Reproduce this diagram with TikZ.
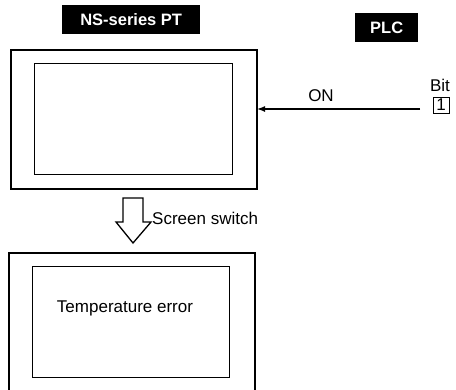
\documentclass[tikz,border=0pt]{standalone}
\usepackage{fontspec}
\setmainfont{Liberation Sans}
\usetikzlibrary{arrows.meta}
\begin{document}
\begin{tikzpicture}[x=1pt,y=-1pt,
  title/.style={fill=black,text=white,font=\fontsize{16.5}{18}\selectfont\bfseries,inner sep=0pt,anchor=north west},
  outerbox/.style={draw,line width=1.8pt,inner sep=0pt,anchor=north west},
  innerbox/.style={draw,line width=1.4pt,inner sep=0pt,anchor=north west},
  lbl/.style={font=\fontsize{17}{19}\selectfont,inner sep=0pt}]
\clip (0,0) rectangle (456,389);
\fill[white] (0,0) rectangle (456,389);
% titles
\node[title,minimum width=138pt,minimum height=29pt] (nst) at (62,5) {NS-series PT};
\node[title,minimum width=63pt,minimum height=29pt] (plc) at (355,13) {PLC};
% top screen
\node[outerbox,minimum width=246pt,minimum height=139pt] (top) at (10,49) {};
\node[innerbox,minimum width=198pt,minimum height=111pt] (topin) at (34,63) {};
% bit
\node[lbl,anchor=base] (bit) at (440,91) {Bit};
\node[draw,line width=0.9pt,minimum width=16pt,minimum height=16pt,inner sep=0pt,font=\fontsize{17}{19}\selectfont] (one) at (441,105) {1};
\coordinate (lineend) at (420,109);
\coordinate (tip) at (257,109);
\draw[line width=1.4pt,-{Latex[length=8pt,width=6pt]}] (lineend) -- (tip);
\node[lbl] (on) at (321,96) {ON};
% hollow arrow
\draw[line width=1.3pt,line join=miter,fill=white] (123,198) -- (143,198) -- (143,222) -- (151,222) -- (133,243) -- (116,222) -- (123,222) -- cycle;
\node[lbl,anchor=west] (sw) at (152,218) {Screen switch};
% bottom screen
\node[outerbox,minimum width=246pt,minimum height=160pt] (bot) at (8,252) {};
\node[innerbox,minimum width=197pt,minimum height=111pt] (botin) at (32,266) {};
\node[lbl] (temp) at (125,308) {Temperature error};
\end{tikzpicture}
\end{document}
